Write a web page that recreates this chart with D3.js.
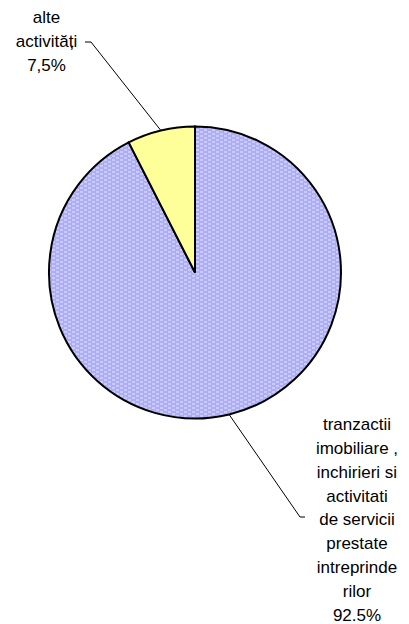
<!DOCTYPE html>
<html>
<head>
<meta charset="utf-8">
<script src="https://cdn.jsdelivr.net/npm/d3@7"></script>
<style>
  body { margin: 0; background: #fff; }
  svg { display: block; }
</style>
</head>
<body>
<svg id="chart"></svg>
<script>
// DATA
const categories = ["tranzactii imobiliare , inchirieri si activitati de servicii prestate intreprinderilor", "alte activități"];
const values = [92.5, 7.5];
const labelLines = [
  ["tranzactii", "imobiliare ,", "inchirieri si", "activitati", "de servicii", "prestate", "intreprinde", "rilor", "92.5%"],
  ["alte", "activități", "7,5%"]
];

const width = 409, height = 624;
const cx = 195, cy = 272.5, radius = 146;

const svg = d3.select('#chart')
  .attr('width', width)
  .attr('height', height);

// dotted lavender fill
const defs = svg.append('defs');
const pat = defs.append('pattern')
  .attr('id', 'lav')
  .attr('patternUnits', 'userSpaceOnUse')
  .attr('width', 8).attr('height', 4);
pat.append('rect').attr('width', 8).attr('height', 4).attr('fill', '#acacf8');
pat.append('rect').attr('x', 1).attr('y', 1).attr('width', 3).attr('height', 1).attr('fill', '#ececff');
pat.append('rect').attr('x', 5).attr('y', 3).attr('width', 3).attr('height', 1).attr('fill', '#ececff');

const colors = ['url(#lav)', '#ffff99'];

const pie = d3.pie().sort(null).value(d => d);
const arcs = pie(values);
const arc = d3.arc().innerRadius(0).outerRadius(radius);

const g = svg.append('g').attr('transform', `translate(${cx},${cy})`);

g.selectAll('path')
  .data(arcs)
  .enter()
  .append('path')
  .attr('d', arc)
  .attr('fill', (d, i) => colors[i])
  .attr('stroke', '#000')
  .attr('stroke-width', 2)
  .attr('stroke-linejoin', 'miter');

// LABELS (baseline of first line, leader elbow)
const fontSize = 17, lineH = 23.8;
const labelLayout = [
  { x: 357, y: 430.2, elbowX: 300, elbowY: 517, endX: 305 },
  { x: 46.5, y: 23.3, elbowX: 91, elbowY: 42, endX: 85 }
];

arcs.forEach((d, i) => {
  const L = labelLayout[i];
  const mid = (d.startAngle + d.endAngle) / 2;
  const px = cx + radius * Math.sin(mid);
  const py = cy - radius * Math.cos(mid);

  svg.append('polyline')
    .attr('points', `${px},${py} ${L.elbowX},${L.elbowY} ${L.endX},${L.elbowY}`)
    .attr('fill', 'none')
    .attr('stroke', '#000')
    .attr('stroke-width', 1);

  const t = svg.append('text')
    .attr('text-anchor', 'middle')
    .attr('font-family', 'Liberation Sans, Arial, sans-serif')
    .attr('font-size', fontSize)
    .attr('fill', '#000');
  labelLines[i].forEach((line, j) => {
    t.append('tspan')
      .attr('x', L.x)
      .attr('y', L.y + j * lineH)
      .text(line);
  });
});
</script>
</body>
</html>
